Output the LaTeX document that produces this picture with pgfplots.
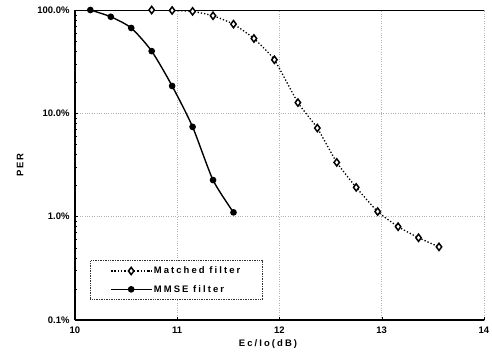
\documentclass[border=0pt]{standalone}
\usepackage{fontspec}
\setmainfont{Liberation Sans}
\newfontfamily\spaced[LetterSpace=22]{Liberation Sans}
\usepackage{pgfplots}
\pgfplotsset{compat=1.18}
\begin{document}
\begin{tikzpicture}[x=1bp,y=1bp]
\path[use as bounding box] (-75bp,-40bp) rectangle (417bp,320bp);
\begin{axis}[
  scale only axis,
  width=409bp, height=310bp,
  at={(0,0)}, anchor=south west,
  xmin=10, xmax=14,
  ymode=log, ymin=0.1, ymax=100,
  xtick={10,11,12,13,14},
  ytick={0.1,1,10,100},
  yticklabels={0.1\%,1.0\%,10.0\%,100.0\%},
  axis lines*=left,
  axis line style={line width=1.5pt},
  tick style={black, thin},
  major tick length=3bp, minor tick length=2bp,
  grid=major,
  major grid style={dotted, gray!60, line width=0.6pt},
  /pgf/number format/assume math mode=true,
  tick label style={font=\fontsize{9.5}{11}\selectfont\bfseries},
  xlabel={\spaced\bfseries Ec/Io(dB)},
  ylabel={\spaced\bfseries PER},
  label style={font=\fontsize{9.5}{11}\selectfont},
  xlabel style={at={(rel axis cs:0.472,0)}, anchor=north, yshift=-16bp},
  ylabel style={at={(rel axis cs:0,0.5)}, anchor=south, yshift=48bp},
  xticklabel style={yshift=-3bp},
  yticklabel style={xshift=-2bp},
  legend style={at={(0.037,0.065)}, anchor=south west, draw=black!80, densely dotted, line width=0.7pt,
    font=\fontsize{9.5}{11}\selectfont\spaced\bfseries, row sep=6bp, inner xsep=20bp, inner ysep=4bp,
    /tikz/every even column/.append style={column sep=2bp}},
  legend cell align=left,
  legend image code/.code={\draw[mark repeat=2,mark phase=2,#1] plot coordinates {(0bp,0bp) (20bp,0bp) (40bp,0bp)};},
]
\addplot[black, line width=1.3pt, dotted, smooth, tension=0.3, mark=diamond*, mark size=3.6bp,
  mark options={solid, fill=white, draw=black, line width=1.5pt}]
  coordinates {
  (10.75,100) (10.95,99) (11.15,97) (11.35,88) (11.55,73) (11.75,53) (11.95,33)
  (12.18,12.7) (12.37,7.2) (12.56,3.35) (12.75,1.92) (12.96,1.12) (13.16,0.80)
  (13.36,0.625) (13.56,0.51)};
\addlegendentry{Matched filter}
\addplot[black, line width=1.4pt, smooth, tension=0.4, mark=*, mark size=2.6bp,
  mark options={solid, fill=black}]
  coordinates {
  (10.15,100) (10.35,86) (10.55,67) (10.75,40) (10.95,18.4) (11.15,7.4)
  (11.35,2.26) (11.55,1.1)};
\addlegendentry{MMSE filter}
\draw[line width=1.5pt] (rel axis cs:0,1) -- (rel axis cs:1,1);
\draw[line width=1pt, densely dotted] (rel axis cs:1,0) -- (rel axis cs:1,1);
\end{axis}
\end{tikzpicture}
\end{document}
